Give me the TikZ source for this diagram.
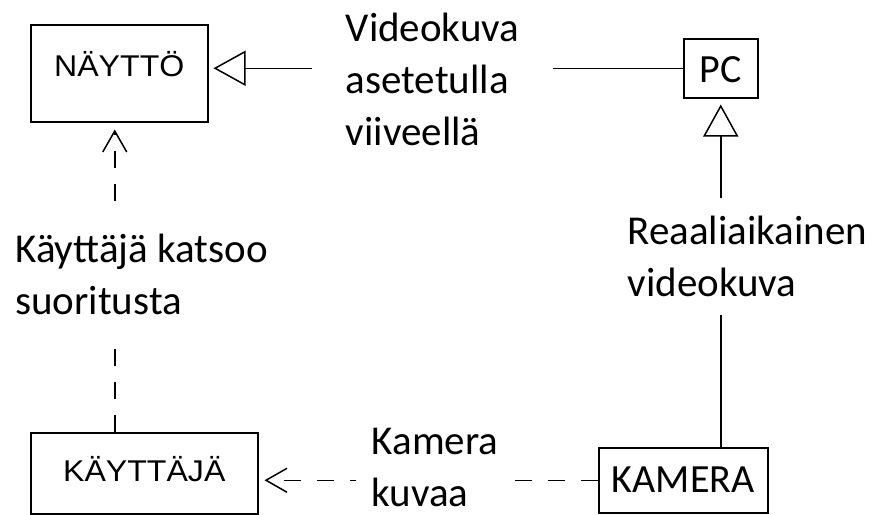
\documentclass[tikz,border=0pt]{standalone}
\usepackage{fontspec}
\usetikzlibrary{arrows.meta}
\newfontfamily\boxfnt[FakeStretch=1.07]{Liberation Sans}
\newfontfamily\lblfont{Carlito}
\newcommand\arialtext[1]{{\boxfnt\fontsize{30}{36}\selectfont #1}}
\tikzset{
  box/.style={draw=black, line width=1.5pt, inner sep=0pt, anchor=north west, align=center},
  calitxt/.style={font=\lblfont\fontsize{40}{50}\selectfont},
  lbl/.style={fill=white, align=left, inner sep=0pt, font=\lblfont\fontsize{41}{52}\selectfont},
  conn/.style={line width=1.5pt},
  dconn/.style={conn, dash pattern=on 17pt off 16pt},
  opentri/.style={-{Triangle[open, length=32pt, width=35pt, line width=1.5pt]}},
  barb/.style={-{Straight Barb[length=21pt, width=24pt, line width=1.5pt]}},
}
\begin{document}
\begin{tikzpicture}[x=1pt,y=-1pt]
\useasboundingbox (0,0) rectangle (872,514);
% boxes
\node[box, minimum width=177pt, text height=52pt, text depth=45pt] (nay) at (30,24) {\arialtext{NÄYTTÖ}};
\node[box, minimum width=227pt, text height=49pt, text depth=32pt] (kay) at (30,432) {\arialtext{KÄYTTÄJÄ}};
\node[box, calitxt, minimum width=74pt, text height=44pt, text depth=15pt] (pc) at (683,38) {PC};
\node[box, calitxt, minimum width=169pt, text height=45pt, text depth=20pt] (kam) at (598,447) {KAMERA};
% connectors
\draw[conn, opentri, shorten >=5pt] (pc.west) -- (pc.west -| nay.east);
\draw[conn, opentri, shorten >=6pt] (pc.south |- kam.north) -- (pc.south);
\draw[dconn, barb, shorten >=6pt] (kam.west) -- (kam.west -| kay.east);
\coordinate (vx) at ([xshift=-4.5pt]nay.south);
\draw[dconn, barb, shorten >=7pt] (vx |- kay.north) -- (vx);
% labels
\node[lbl, inner xsep=34pt, inner ysep=8pt] (l1) at (432.5,79.5) {Videokuva\\asetetulla\\viiveellä};
\node[lbl, inner xsep=3pt, inner ysep=18pt] (l2) at (747.5,256.5) {Reaaliaikainen\\videokuva};
\node[lbl, inner xsep=4pt, inner ysep=18pt] (l3) at (141.5,274.5) {Käyttäjä katsoo\\suoritusta};
\node[lbl, inner xsep=16pt, inner ysep=0pt] (l4) at (435,467) {Kamera\\kuvaa};
\end{tikzpicture}
\end{document}
